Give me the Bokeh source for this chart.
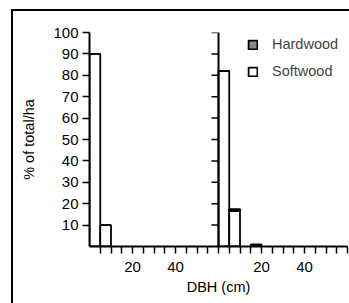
import math
from bokeh.plotting import figure
from bokeh.models import (Range1d, FixedTicker, CustomJSTickFormatter, Legend,
                          LegendItem, ColumnDataSource, GlobalInlineStyleSheet)
from bokeh.embed import file_html
from bokeh.resources import INLINE

# ---- data (DBH class in cm, % of total per ha) ----
bin_left = [0, 5, 10, 15]
bin_width = 5
left_softwood = [90, 10, 0, 0]
left_hardwood = [0, 0, 0, 0]
right_softwood = [82, 16.6, 0, 0.4]
right_hardwood = [0, 0.8, 0, 0.6]

y_ticks = [10, 20, 30, 40, 50, 60, 70, 80, 90, 100]
x_tick_step = 5
x_labelled = [20, 40]
panel_span = 60          # each panel covers DBH 0..60 cm

FONT = "Liberation Sans"
FS = "14.5px"
TICK_FS = "15px"

def panel_rows(offset, soft, hard):
    xs, s_top, h_bot, h_top = [], [], [], []
    for b, s, h in zip(bin_left, soft, hard):
        if s + h <= 0:
            continue
        xs.append(offset + b + bin_width / 2)
        s_top.append(s)
        h_bot.append(s)
        h_top.append(s + h)
    return xs, s_top, h_bot, h_top

xs, s_top, h_bot, h_top = [], [], [], []
for off, so, ha in ((0, left_softwood, left_hardwood), (panel_span, right_softwood, right_hardwood)):
    a, b, c, d = panel_rows(off, so, ha)
    xs += a; s_top += b; h_bot += c; h_top += d

soft_src = ColumnDataSource(dict(x=xs, top=s_top))
hard_src = ColumnDataSource(dict(x=xs, bottom=h_bot, top=h_top))

p = figure(width=349, height=303, output_backend="svg", toolbar_location=None,
           x_range=Range1d(0, 2 * panel_span), y_range=Range1d(0, 100),
           min_border_left=89, min_border_right=2, min_border_top=32, min_border_bottom=57)
p.outline_line_color = None
p.xgrid.visible = False
p.ygrid.visible = False
p.background_fill_color = "white"
p.border_fill_color = "white"

# outer frame line (left and top edges) of the figure panel, drawn on the page
p.stylesheets = [GlobalInlineStyleSheet(css="""
html, body { overflow: hidden; }
body::before {
  content: ""; position: fixed; left: 11px; top: 9px; width: 2px; height: 294px;
  background: black; pointer-events: none; z-index: 1000;
}
body::after {
  content: ""; position: fixed; left: 11px; top: 9px; width: 338px; height: 2px;
  background: black; pointer-events: none; z-index: 1000;
}
""")]

soft_r = p.vbar(x="x", top="top", bottom=0, width=bin_width, source=soft_src,
                fill_color="white", line_color="black", line_width=1.8)
hard_r = p.vbar(x="x", top="top", bottom="bottom", width=bin_width, source=hard_src,
                fill_color="#888888", line_color="black", line_width=1.8)

# middle (second panel) y-axis
p.segment(x0=[panel_span], y0=[0], x1=[panel_span], y1=[100], line_color="black", line_width=2)
p.ray(x=[panel_span] * len(y_ticks), y=y_ticks, length=7, length_units="screen",
      angle=math.pi, line_color="black", line_width=1.5)

# axes
ya = p.yaxis[0]
ya.ticker = FixedTicker(ticks=y_ticks)
ya.axis_label = "% of total/ha"
xa = p.xaxis[0]
xa.ticker = FixedTicker(ticks=list(range(x_tick_step, 2 * panel_span + 1, x_tick_step)))
xa.formatter = CustomJSTickFormatter(args=dict(span=panel_span, lab=x_labelled), code="""
    const v = Math.round(tick) % span;
    return lab.includes(v) ? String(v) : "";
""")
xa.axis_label = "DBH (cm)"
for ax in (xa, ya):
    ax.axis_line_width = 2
    ax.axis_line_color = "black"
    ax.major_tick_out = 7
    ax.major_tick_in = 0
    ax.major_tick_line_width = 1.5
    ax.major_tick_line_color = "black"
    ax.minor_tick_line_color = None
    ax.major_label_text_font = FONT
    ax.major_label_text_font_size = TICK_FS
    ax.major_label_text_color = "black"
    ax.axis_label_text_font = FONT
    ax.axis_label_text_font_size = FS
    ax.axis_label_text_font_style = "normal"
    ax.axis_label_text_color = "black"
ya.major_label_standoff = 4
ya.axis_label_standoff = 13
xa.major_label_standoff = 8
xa.axis_label_standoff = 4

legend = Legend(items=[LegendItem(label="Hardwood", renderers=[hard_r]),
                       LegendItem(label="Softwood", renderers=[soft_r])],
                location=(158, 167), padding=0, margin=0, spacing=11,
                glyph_width=11, glyph_height=11, label_height=11, label_standoff=14,
                label_text_font=FONT, label_text_font_size=FS,
                border_line_color=None, background_fill_alpha=0)
p.add_layout(legend, "center")

open("out.html", "w").write(file_html(p, INLINE))
